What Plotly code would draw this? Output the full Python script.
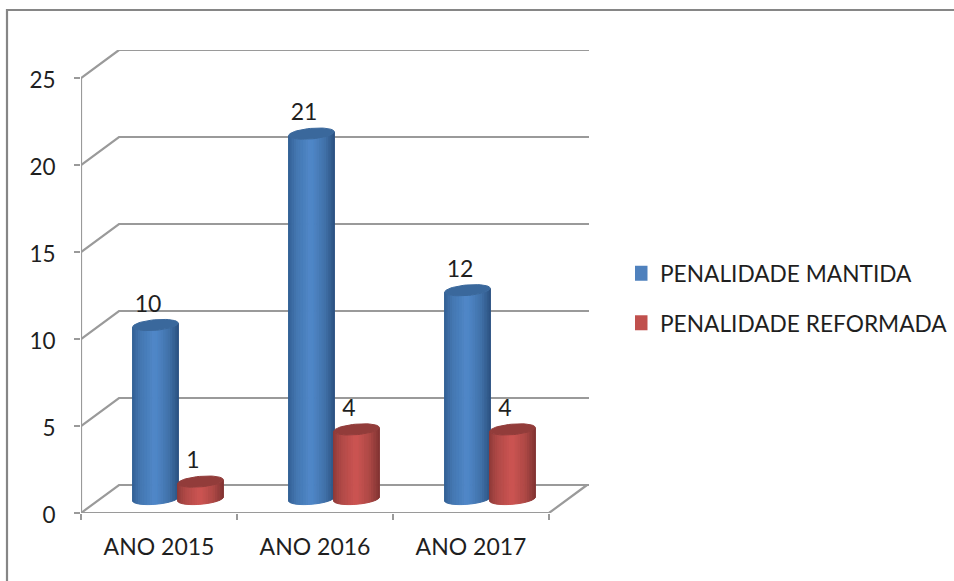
"""Excel-style 3-D cylinder chart, drawn on a flat axis with an oblique projection."""
import math

import plotly.graph_objects as go

CATEGORIES = ["ANO 2015", "ANO 2016", "ANO 2017"]
MANTIDA = [10, 21, 12]
REFORMADA = [1, 4, 4]
Y_TICKS = [0, 5, 10, 15, 20, 25]

WIDTH, HEIGHT = 954, 581
# plot area in pixels: the front axis corner is (81, 513)
LEFT, RIGHT, TOP, BOTTOM = 81, 589, 50, 513
PX_PER_CAT = 156
PX_PER_VAL = 17.4
DEPTH_X = 38 / PX_PER_CAT  # one unit of depth, in category units
DEPTH_Y = 28 / PX_PER_VAL  # one unit of depth, in value units

GRID = "#9a9a9a"
TEXT = "#1f1f1f"
FONT = "Lato"

BANDS = 26
RADIUS = 21.4 / PX_PER_CAT
RADIUS_DEPTH = 0.2
OFFSET = 22.5 / PX_PER_CAT

BLUE = dict(name="PENALIDADE MANTIDA", swatch="#4f81bd", cap="#3a689c",
            stops=[(0, "#325f94"), (0.18, "#4477b1"), (0.5, "#5088c9"),
                   (0.8, "#4172aa"), (1, "#2d5484")])
RED = dict(name="PENALIDADE REFORMADA", swatch="#c0504d", cap="#923c3a",
           stops=[(0, "#8f3a38"), (0.18, "#b04a47"), (0.5, "#cd5452"),
                  (0.8, "#ac4845"), (1, "#843533")])


def mix(stops, pos):
    for (p0, c0), (p1, c1) in zip(stops, stops[1:]):
        if pos <= p1:
            f = (pos - p0) / (p1 - p0)
            rgb = [round(int(c0[i:i + 2], 16) * (1 - f) + int(c1[i:i + 2], 16) * f)
                   for i in (1, 3, 5)]
            return "#%02x%02x%02x" % tuple(rgb)
    return stops[-1][1]


def ring(cx, value, t):
    """Point of the cylinder rim at angle t, at the height of value."""
    cx = cx + DEPTH_X * 0.5 + RADIUS * math.cos(t) + DEPTH_X * RADIUS_DEPTH * math.sin(t)
    y = value + DEPTH_Y * 0.5 + DEPTH_Y * RADIUS_DEPTH * math.sin(t)
    return cx, y


def add_lines(fig, xs, ys):
    fig.add_trace(go.Scatter(x=xs, y=ys, mode="lines", showlegend=False, hoverinfo="skip",
                             line=dict(color=GRID, width=2.2)))


def add_cylinders(fig, positions, values, style):
    phi = math.atan2(DEPTH_X * RADIUS_DEPTH, RADIUS)
    # one trace per shade, holding that shade's strip of every cylinder
    for k in range(BANDS):
        s0 = math.pi + math.pi * k / BANDS
        s1 = math.pi + math.pi * (k + 1) / BANDS
        xs, ys = [], []
        for cx, value in zip(positions, values):
            angles = [phi + s0 + (s1 - s0) * i / 4 for i in range(5)]
            low = [ring(cx, 0, t) for t in angles]
            high = [ring(cx, value, t) for t in reversed(angles)]
            xs += [p[0] for p in low + high] + [low[0][0], None]
            ys += [p[1] for p in low + high] + [low[0][1], None]
        pos = (1 - math.cos(s0 + math.pi / BANDS / 2 - math.pi)) / 2
        color = mix(style["stops"], pos)
        fig.add_trace(go.Scatter(x=xs, y=ys, mode="lines", fill="toself", fillcolor=color,
                                 line=dict(color=color, width=1), showlegend=False,
                                 hoverinfo="skip"))
    xs, ys = [], []
    for cx, value in zip(positions, values):
        rim = [ring(cx, value, 2 * math.pi * i / 48) for i in range(49)]
        xs += [p[0] for p in rim] + [None]
        ys += [p[1] for p in rim] + [None]
    fig.add_trace(go.Scatter(x=xs, y=ys, mode="lines", fill="toself", fillcolor=style["cap"],
                             line=dict(color=style["cap"], width=1), showlegend=False,
                             hoverinfo="skip"))


fig = go.Figure()

# walls and floor
for v in Y_TICKS:
    add_lines(fig, [0, DEPTH_X, (RIGHT - LEFT) / PX_PER_CAT], [v, v + DEPTH_Y, v + DEPTH_Y])
add_lines(fig, [0, 0], [0, Y_TICKS[-1]])
add_lines(fig, [0, len(CATEGORIES), len(CATEGORIES) + DEPTH_X], [0, 0, DEPTH_Y])

centers = [i + 0.5 for i in range(len(CATEGORIES))]
blue_x = [c - OFFSET for c in centers]
red_x = [c + OFFSET for c in centers]
add_cylinders(fig, blue_x, MANTIDA, BLUE)
add_cylinders(fig, red_x, REFORMADA, RED)

# data labels sit a little left of the cylinder, above its top
for xs, values in ((blue_x, MANTIDA), (red_x, REFORMADA)):
    fig.add_trace(go.Scatter(
        x=[x + DEPTH_X * 0.5 - 7.5 / PX_PER_CAT for x in xs],
        y=[v + DEPTH_Y * 0.5 + 19 / PX_PER_VAL for v in values],
        mode="text", text=[str(v) for v in values], textposition="middle center",
        textfont=dict(family=FONT, size=23, color=TEXT), showlegend=False, hoverinfo="skip",
        cliponaxis=False,
    ))

for style in (BLUE, RED):
    fig.add_trace(go.Scatter(
        x=[None], y=[None], mode="markers", name=style["name"], legendgroup=style["name"],
        marker=dict(color=style["swatch"], size=15, symbol="square"),
    ))

# chart frame, open past the right and bottom of the picture
fig.add_shape(type="rect", xref="paper", yref="paper", layer="below",
              x0=(7 - LEFT) / (RIGHT - LEFT), x1=(960 - LEFT) / (RIGHT - LEFT),
              y0=(BOTTOM - 590) / (BOTTOM - TOP), y1=(BOTTOM - 10) / (BOTTOM - TOP),
              line=dict(color="#868686", width=2.2))

fig.update_layout(
    width=WIDTH, height=HEIGHT,
    margin=dict(l=LEFT, r=WIDTH - RIGHT, t=TOP, b=HEIGHT - BOTTOM, autoexpand=False),
    paper_bgcolor="white", plot_bgcolor="white",
    font=dict(family=FONT, color=TEXT),
    xaxis=dict(range=[0, (RIGHT - LEFT) / PX_PER_CAT], showgrid=False, zeroline=False,
               showline=False, tickvals=centers, ticktext=CATEGORIES, ticks="",
               tickfont=dict(size=23), ticklabelstandoff=18,
               minor=dict(tickvals=list(range(len(CATEGORIES) + 1)), ticks="outside",
                          ticklen=6, tickwidth=2, tickcolor=GRID)),
    yaxis=dict(range=[0, (BOTTOM - TOP) / PX_PER_VAL], showgrid=False, zeroline=False,
               showline=False, tickvals=Y_TICKS, ticks="outside", ticklen=6, tickwidth=2,
               tickcolor=GRID, tickfont=dict(size=22.5), ticklabelstandoff=14,
               ticklabelshift=2),
    legend=dict(x=(635 - LEFT) / (RIGHT - LEFT), y=(BOTTOM - 252) / (BOTTOM - TOP),
                xanchor="left", yanchor="top", font=dict(size=22.7), tracegroupgap=17,
                indentation=-15, bgcolor="rgba(0,0,0,0)"),
)

# the page's default body margin would push the chart 8px in
fig.write_html("out.html", config=dict(displayModeBar=False),
               post_script="document.body.style.margin = '0';")
